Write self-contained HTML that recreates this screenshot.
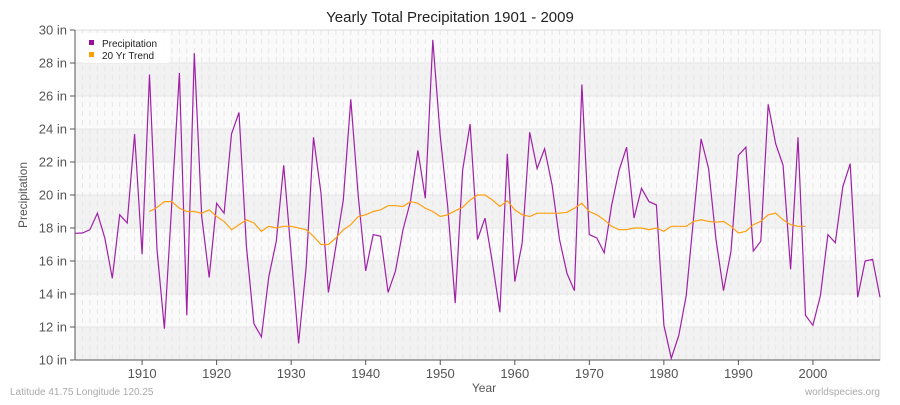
<!DOCTYPE html>
<html><head><meta charset="utf-8"><style>
body{margin:0;background:#fff;font-family:"Liberation Sans",sans-serif;}
</style></head><body>
<svg id="c" width="900" height="400" xmlns="http://www.w3.org/2000/svg" font-family="Liberation Sans, sans-serif"></svg>
<script>
var P=[17.68,17.7,17.9,18.9,17.4,14.95,18.8,18.3,23.7,16.4,27.3,16.7,11.9,19.6,27.4,12.7,28.6,18.7,15.0,19.5,18.9,23.7,25.0,16.9,12.2,11.4,15.05,17.2,21.8,16.4,
11.0,15.6,23.5,20.1,14.1,16.9,19.7,25.8,19.9,15.4,17.6,17.5,14.1,15.4,17.9,19.6,22.7,19.8,29.4,23.6,19.3,13.45,21.5,24.3,17.3,18.6,15.9,12.9,22.5,14.75,17.1,23.8,21.6,22.8,20.6,17.3,15.25,14.2,26.7,17.6,
17.4,16.5,19.4,21.5,22.9,18.6,20.4,19.6,19.4,12.1,10.1,11.5,13.9,18.7,23.4,21.6,17.3,14.2,16.6,22.4,22.9,16.6,17.2,25.5,23.1,21.8,15.5,23.5,12.7,12.1,13.9,17.6,17.1,20.5,21.9,13.8,16.0,16.1,13.8];
var T=[19.0,19.25,19.6,19.6,19.2,19.0,19.0,18.9,19.1,18.7,18.4,17.9,18.2,18.5,18.3,17.8,18.1,18.0,18.1,18.1,
18.0,17.9,17.5,17.0,17.0,17.4,17.9,18.2,18.7,18.8,19.0,19.1,19.35,19.35,19.3,19.6,19.5,19.2,19.0,18.7,18.8,19.05,19.25,19.7,20.0,20.0,19.7,19.3,19.65,19.1,18.8,18.7,18.9,18.9,18.9,18.9,18.95,19.2,19.5,19.0,
18.8,18.5,18.1,17.9,17.9,18.0,18.0,17.9,18.0,17.8,18.1,18.1,18.1,18.4,18.5,18.4,18.35,18.4,18.1,17.7,17.8,18.2,18.4,18.8,18.9,18.5,18.2,18.1,18.1];
var L=75,R=880,TOP=30,B=360;
function X(y){return L+(y-1901)*7.454;}
function Y(v){return TOP+(30-v)*16.5;}
var s='';
s+='<rect x="'+L+'" y="'+TOP+'" width="'+(R-L)+'" height="'+(B-TOP)+'" fill="#fafafa"/>';
for(var v=10;v<30;v+=4){s+='<rect x="'+L+'" y="'+Y(v+2)+'" width="'+(R-L)+'" height="33" fill="#f2f2f2"/>';}
for(var y=1901;y<=2009;y++){var x=X(y).toFixed(1);s+='<line x1="'+x+'" y1="'+TOP+'" x2="'+x+'" y2="'+B+'" stroke="#e6e6e6" stroke-width="1" stroke-dasharray="5,4"/>';}
for(var v=10;v<=30;v+=2){var yy=Y(v);s+='<line x1="'+L+'" y1="'+yy+'" x2="'+R+'" y2="'+yy+'" stroke="#e6e6e6" stroke-width="1"/>';
s+='<line x1="'+(L-5)+'" y1="'+yy+'" x2="'+L+'" y2="'+yy+'" stroke="#555"/>';
s+='<text x="'+(L-8)+'" y="'+(yy+4.5)+'" font-size="13" fill="#555" text-anchor="end">'+v+' in</text>';}
s+='<rect x="'+L+'" y="'+TOP+'" width="'+(R-L)+'" height="'+(B-TOP)+'" fill="none" stroke="#ddd"/>';
for(var y=1910;y<=2000;y+=10){var x=X(y);s+='<line x1="'+x+'" y1="'+B+'" x2="'+x+'" y2="'+(B+5)+'" stroke="#555"/>';
s+='<text x="'+x+'" y="'+(B+18)+'" font-size="13" fill="#555" text-anchor="middle">'+y+'</text>';}
s+='<line x1="'+L+'" y1="'+TOP+'" x2="'+L+'" y2="'+B+'" stroke="#555"/>';
s+='<line x1="'+L+'" y1="'+B+'" x2="'+R+'" y2="'+B+'" stroke="#555"/>';
var p=P.map(function(v,i){return X(1901+i).toFixed(1)+','+Y(v).toFixed(1);}).join(' ');
s+='<polyline points="'+p+'" fill="none" stroke="#a020a8" stroke-width="1.2"/>';
var t=T.map(function(v,i){return X(1911+i).toFixed(1)+','+Y(v).toFixed(1);}).join(' ');
s+='<polyline points="'+t+'" fill="none" stroke="#ffa010" stroke-width="1.2"/>';
s+='<rect x="80" y="33" width="90" height="30" rx="4" fill="#fff" opacity="0.9"/>';
s+='<rect x="89" y="40" width="5" height="5" fill="#9a0f9f"/><text x="102" y="47" font-size="10" fill="#222">Precipitation</text>';
s+='<rect x="89" y="52" width="5" height="5" fill="#ffa000"/><text x="102" y="59" font-size="10" fill="#222">20 Yr Trend</text>';
s+='<text x="450" y="22" font-size="15" fill="#222" text-anchor="middle">Yearly Total Precipitation 1901 - 2009</text>';
s+='<text x="484" y="392" font-size="12" fill="#555" text-anchor="middle">Year</text>';
s+='<text transform="translate(27,195) rotate(-90)" font-size="12" fill="#555" text-anchor="middle">Precipitation</text>';
s+='<text x="10" y="395" font-size="10" fill="#aaa">Latitude 41.75 Longitude 120.25</text>';
s+='<text x="880" y="395" font-size="10" fill="#aaa" text-anchor="end">worldspecies.org</text>';
document.getElementById('c').innerHTML=s;
</script>
</body></html>
